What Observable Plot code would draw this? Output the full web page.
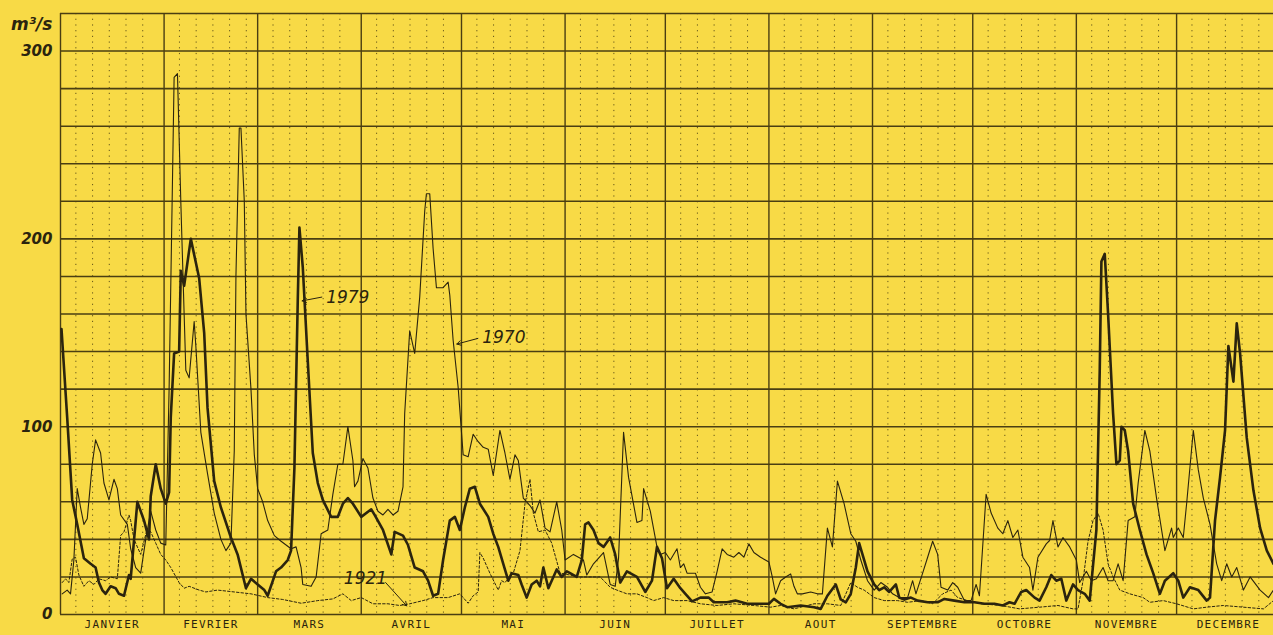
<!DOCTYPE html>
<html>
<head>
<meta charset="utf-8">
<script src="https://cdn.jsdelivr.net/npm/d3@7"></script>
<script src="https://cdn.jsdelivr.net/npm/@observablehq/plot@0.6"></script>
<style>
  html, body { margin: 0; padding: 0; background: #f8da46; }
  #chart svg { display: block; }
</style>
</head>
<body>
<div id="chart"></div>
<script>
// ---------- DATA ----------
const monthNames = ["JANVIER","FEVRIER","MARS","AVRIL","MAI","JUIN","JUILLET","AOUT","SEPTEMBRE","OCTOBRE","NOVEMBRE","DECEMBRE"];
const monthDays = [31,28,31,30,31,30,31,31,30,31,30,31];
const yTicks = [0,100,200,300];
const unitLabel = "m³/s";

// [day of year, m3/s]
const flow1979 = [
[0.3,152],[2,105],[3.5,61],[5,48],[7,30],[9,27],[10.5,25],[11.5,17],[12.5,13],[13.5,11],[15,15],[16.5,14],[17.5,11],[19,10],[20.5,21],[21,19],[23,60],[25,50],[26.5,40],[27,63],[28.5,80],[30,67],[31.5,59],[32.5,65],[33,105],[34,139],[35.5,140],[36,183],[37,175],[39,200],[41.5,179],[43,150],[44,110],[46,71],[48,57],[51,41],[53,32],[55.5,14],[57,19],[59,16],[61,13],[62,10],[64.5,23],[66,25],[68,29],[69,34],[70,78],[71,167],[71.5,206],[72.5,185],[74,135],[75.5,86],[77,70],[78.5,61],[81,52],[83,52],[84.5,59],[86,62],[87.5,59],[90,52],[93,56],[94,53],[96.5,45],[99,32],[100,44],[102.5,42],[104,37],[106,25],[108.5,23],[110,18],[111.5,10],[113,11],[114.5,29],[116.5,50],[118,52],[119.5,45],[121,57],[122.5,67],[124,68],[125.5,59],[128,52],[129.5,43],[131,36],[132.5,27],[134,18],[135,22],[137,21],[138,16],[139.5,9],[141,16],[142.5,18],[143.5,15],[144.5,25],[146,14],[147,18],[148.5,24],[150,20],[151.5,23],[152.5,22],[154.5,20],[156,29],[157,48],[158,49],[159.5,45],[161,38],[162.5,36],[164.5,41],[166,32],[167.5,17],[169.5,23],[172.5,20],[175,12],[177,18],[178.5,36],[180,30],[181.5,14],[183.5,19],[185.5,14],[187,11],[189,7],[191.5,9],[194,9],[195.5,6.5],[199.5,6.5],[202,7.4],[205.5,5.7],[209.5,5.7],[212,5.7],[213.5,8.3],[215.5,5.7],[217.5,3.9],[221.5,4.8],[225.5,3.9],[227.5,3],[229.5,10],[232,16],[233.5,8],[235,6.5],[236.5,11],[238,25],[239,38],[240,32],[241.5,23],[243.5,16],[245,13],[246.5,14.5],[248,12],[250,16],[251,9],[252.5,8],[254.5,9],[256.5,7.4],[259.5,6.5],[262.5,6.5],[264.5,8.3],[267.5,7.4],[270.5,6.5],[273.5,6.5],[276.5,5.7],[279.5,5.7],[282,4.8],[284,6.5],[285.5,5.7],[287.5,12],[289,13],[291.5,9],[293,7.4],[295,14.5],[296.5,21],[298,18],[299.5,19],[301,7.4],[303,16],[304.5,13],[306.5,11],[308,7.4],[310,45],[311,130],[311.5,188],[312.5,192],[313.5,160],[315,107],[316,80],[317,82],[317.5,100],[318.5,98],[319.5,87],[321,59],[323,45],[325,32],[327,22],[329,11],[330.5,18],[333,22],[334.5,18],[336,9],[338,14.5],[340.5,13],[343,7.4],[344,9],[345.5,50],[347,73],[348.5,98],[349.5,143],[351,124],[352,155],[353,139],[355,94],[357,66],[359,46],[361,34],[363,27]
];

const flow1970 = [
[0.5,11],[2,13],[3,11],[4,29],[5,67],[6,57],[7,48],[8,51],[9.5,80],[10.5,93],[12,86],[13,70],[14.5,61],[16,72],[17,67],[18,53],[20,48],[21,35],[22.5,25],[24,22],[25.5,40],[27,55],[28.5,45],[30,38],[31.5,37],[32.5,120],[33.5,230],[34,286],[35,288],[36,220],[37,160],[37.5,130],[38.5,126],[40,156],[40.5,143],[42,97],[44,75],[46,54],[48,40],[49.5,34],[51,38],[52,87],[52.5,180],[53.5,259],[54,259],[55,220],[55.5,160],[57,120],[58,85],[59,67],[60.5,60],[62,50],[64,42],[66,39],[69,35],[70.5,36],[72,25],[72.5,16],[75,15],[76.5,20],[78,43],[80,45],[81.5,64],[83,80],[84.5,80],[86,100],[87.5,82],[88,68],[89,71],[90.5,83],[92,78],[93.5,62],[95,55],[96.5,53],[98,56],[99.5,53],[101,55],[102.5,68],[103,107],[104.5,151],[106,139],[107.5,169],[109,215],[109.5,224],[110.5,224],[111.5,195],[112.5,174],[114.5,174],[116,177],[116.5,170],[117.5,146],[119,121],[120.5,85],[122,84],[123.5,96],[125,92],[126.5,89],[128,88],[129.5,74],[131.5,98],[133,86],[134.5,72],[136,85],[137,82],[138.5,62],[140.5,58],[142,54],[143.5,61],[145,46],[146.5,44],[148.5,60],[150,45],[151,29],[153.5,32],[156.5,29],[157.5,21],[159.5,27],[162.5,33],[164.5,16],[166,15],[167,30],[168.5,97],[170,73],[172.5,49],[174,50],[174.5,67],[176.5,55],[178.5,36],[179.5,32],[181,33],[182.5,29],[184.5,35],[185.5,25],[186.5,27],[187.5,22],[190,22],[191.5,14.5],[193,11],[195,12],[196.5,23],[198,35],[199.5,32],[201.5,30.5],[203,33],[204.5,30.5],[206,37.6],[207.5,33],[209.5,30.5],[212,28],[213,20],[214,11],[215.5,18],[217,20],[218.5,21.6],[219.5,15],[220.5,11],[222,11],[224.5,12],[226.5,11],[228,11],[229.5,46],[231,36],[232.5,71],[234.5,59],[236.5,43],[238,39],[239.5,29],[241.5,18],[243.5,13],[245.5,17],[247.5,14.5],[249,11],[251,9],[253.5,9],[255,18],[256,11],[258,22],[259.5,30.5],[261,39],[262.5,32],[263.5,14.5],[265.5,13],[267,17],[268.5,14.5],[270.5,7.4],[272.5,7.4],[274,16],[275,10],[277,64],[278.5,54],[280.5,46],[282,43],[283.5,50],[285,41],[286.5,45],[288,30.5],[290,25],[291,13],[292.5,30.5],[295,37.6],[296,39.4],[297,50],[298.5,36],[300,41],[302,36],[304,29],[305,17],[307,23],[308.5,18],[310,19],[312,25],[313.5,18],[315,18],[316.5,27],[318,18],[319.5,50],[321.5,52],[322.5,70],[324.5,98],[326,87],[328,62],[330.5,34],[332.5,46],[333,41],[334.5,46],[336,41],[337,59],[339,98],[340.5,77],[342,62],[344,48],[346,27],[347.5,18],[349,27],[350.5,20],[352,25],[354,13],[356,20],[359,13],[361.5,9],[363,13]
];

const flow1921 = [
[0.5,17],[1.5,19],[2.5,17],[3.5,29.5],[4.5,30.5],[5.5,21],[7,15],[8.5,18],[10,16],[11.5,19],[13.5,18],[15,20],[17,19],[18,42],[19,44],[20.5,53],[21,50],[22,40],[24,32],[26,46],[27,44],[28.5,38],[30,32],[31.5,29],[33,25],[35.5,17],[37,14],[38.5,15],[41.5,13],[43.5,12],[47,13],[52,12],[57,11],[62,9],[66.5,8],[72,6],[77,7.4],[81.5,8.3],[84.5,11],[87,7.4],[90,9],[93.5,5.7],[98,5.7],[101.5,4.8],[104.5,5.7],[108.5,7.4],[111.5,9],[116,9],[119.5,11],[122,6],[123.5,10],[125,12],[125.5,33],[126.5,30],[128.5,22],[131,13],[132,18],[133,17],[135.5,22],[137.5,34],[139,59],[140.5,72],[141.5,54],[143,44],[145,45],[147,38],[149.5,22],[155.5,20],[161.5,20],[164.5,14.5],[166.5,13],[169.5,11],[172.5,11],[175.5,9],[177.5,7.4],[180.5,9],[183.5,7.4],[187.5,7.4],[191.5,5.7],[196.5,4.8],[201.5,5.7],[207.5,4.8],[212.5,3.9],[215.5,4.8],[219.5,3],[225.5,5.7],[229.5,5.7],[233.5,4.8],[236.5,17],[238.5,14.5],[240.5,13],[243.5,9],[246.5,7.4],[250.5,7.4],[253.5,6.5],[257.5,7.4],[261,5.7],[264,11],[266.5,13],[268.5,9],[271.5,7.4],[275.5,5.7],[281.5,4.8],[287,3],[293,3.9],[298.5,4.8],[303,3],[304.5,3],[306,18],[307.5,39],[309,50],[310.5,54],[312,45],[313.5,27],[315,20],[317,13],[320,11],[324,9],[326,6.5],[330,7.4],[334,5.7],[339,3],[343,3.9],[348,4.8],[354,3.9],[360,3],[363,7.4]
];

// annotation labels: text, day, value, arrow from (day1,val1) to (day2,val2)
const notes = [
  {text: "1979", day: 78.9, val: 168.5, day1: 78.2, val1: 169, day2: 72.3, val2: 167},
  {text: "1970", day: 125.6, val: 147.5, day1: 124.9, val1: 147, day2: 118.6, val2: 144},
  {text: "1921", day: 84.2, val: 19.2, day1: 97.3, val1: 17, day2: 103.6, val2: 4.6}
];

// ---------- DERIVED ----------
const monthStarts = Array.from(d3.cumsum([0, ...monthDays.slice(0, -1)]));
const monthMids = monthStarts.map((s, i) => s + monthDays[i] / 2);
const dotDays = [];
monthStarts.forEach(s => [5,10,15,20,25].forEach(k => dotDays.push(s + k - 0.4)));
const hGrid = d3.range(0, 321, 20);

const BG = "#f8da46";
const INK = "#2b240e";
const GRID = "#4a3e12";

const toRows = (arr) => arr.map(([d, v]) => ({d, v}));

const chart = Plot.plot({
  width: 1273,
  height: 635,
  marginLeft: 60,
  marginRight: 0,
  marginTop: 13,
  marginBottom: 21,
  style: {background: BG, fontFamily: "DejaVu Sans, sans-serif", color: INK},
  x: {domain: [0, 363], axis: null},
  y: {domain: [0, 320], axis: null},
  marks: [
    Plot.ruleX(dotDays, {stroke: GRID, strokeWidth: 1, strokeDasharray: "1.2,4.5", strokeOpacity: 0.85}),
    Plot.ruleY(hGrid, {stroke: GRID, strokeWidth: 1.6}),
    Plot.ruleX(monthStarts, {stroke: GRID, strokeWidth: 1.4}),
    Plot.line(toRows(flow1921), {x: "d", y: "v", stroke: INK, strokeWidth: 1, strokeDasharray: "2.5,2"}),
    Plot.line(toRows(flow1970), {x: "d", y: "v", stroke: INK, strokeWidth: 1.1}),
    Plot.line(toRows(flow1979), {x: "d", y: "v", stroke: INK, strokeWidth: 2.6, strokeLinejoin: "round"}),
    Plot.arrow(notes, {x1: "day1", y1: "val1", x2: "day2", y2: "val2", stroke: INK, strokeWidth: 1, headLength: 7, insetEnd: 0}),
    Plot.text(notes, {x: "day", y: "val", text: "text", textAnchor: "start", fill: INK, fontSize: 17, fontStyle: "italic", dx: 2}),
    Plot.axisY(yTicks, {tickSize: 0, tickPadding: 8, fontSize: 15, fontStyle: "italic", fontWeight: "bold", fill: INK, label: null}),
    Plot.text([unitLabel], {frameAnchor: "top-left", textAnchor: "end", dx: -8, dy: 4, fontSize: 17, fontStyle: "italic", fontWeight: "bold", fill: INK}),
    Plot.axisX(monthMids, {tickSize: 0, tickPadding: 6, tickFormat: (d, i) => monthNames[i], fontSize: 11, fontFamily: "DejaVu Sans Mono", fill: INK, label: null})
  ]
});
// wider letter spacing for the plotter-style month labels
chart.querySelectorAll("text").forEach(t => {
  if (monthNames.includes(t.textContent.trim())) t.style.letterSpacing = "1.3px";
});
document.getElementById("chart").appendChild(chart);
</script>
</body>
</html>
